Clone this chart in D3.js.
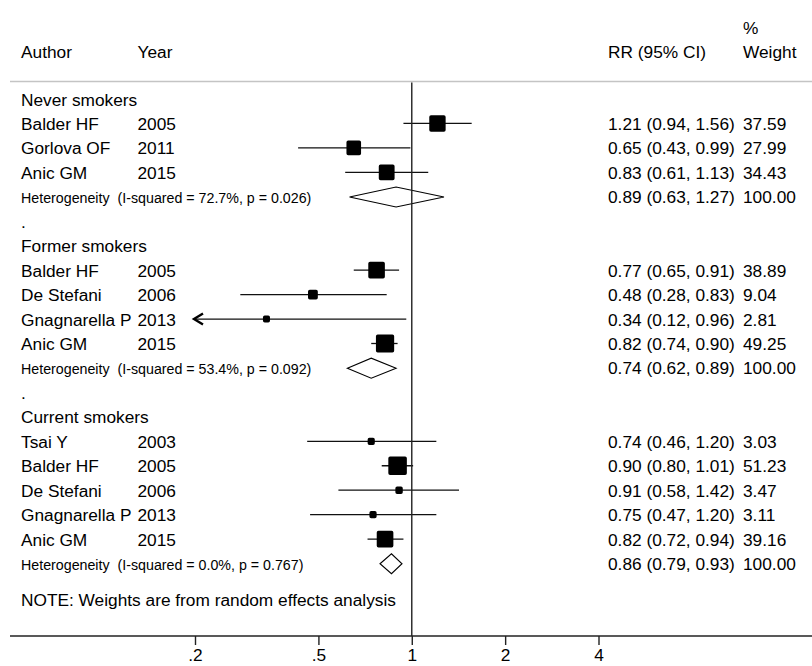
<!DOCTYPE html>
<html>
<head>
<meta charset="utf-8">
<script src="https://cdn.jsdelivr.net/npm/d3@7"></script>
<style>
  html, body { margin: 0; padding: 0; background: #fff; }
  svg { display: block; }
  text { font-family: "Liberation Sans", Arial, sans-serif; fill: #000; }
</style>
</head>
<body>
<svg id="chart" width="812" height="666"></svg>
<script>
// ---------- data ----------
const groupNames = ["Never smokers", "Former smokers", "Current smokers"];
const studyGroup = [0, 0, 0, 1, 1, 1, 1, 2, 2, 2, 2, 2];
const authors = ["Balder HF", "Gorlova OF", "Anic GM",
                 "Balder HF", "De Stefani", "Gnagnarella P", "Anic GM",
                 "Tsai Y", "Balder HF", "De Stefani", "Gnagnarella P", "Anic GM"];
const years = [2005, 2011, 2015, 2005, 2006, 2013, 2015, 2003, 2005, 2006, 2013, 2015];
const rr = [1.21, 0.65, 0.83, 0.77, 0.48, 0.34, 0.82, 0.74, 0.90, 0.91, 0.75, 0.82];
const lo = [0.94, 0.43, 0.61, 0.65, 0.28, 0.12, 0.74, 0.46, 0.80, 0.58, 0.47, 0.72];
const hi = [1.56, 0.99, 1.13, 0.91, 0.83, 0.96, 0.90, 1.20, 1.01, 1.42, 1.20, 0.94];
const weights = [37.59, 27.99, 34.43, 38.89, 9.04, 2.81, 49.25, 3.03, 51.23, 3.47, 3.11, 39.16];
const pooledRR = [0.89, 0.74, 0.86];
const pooledLo = [0.63, 0.62, 0.79];
const pooledHi = [1.27, 0.89, 0.93];
const pooledWeight = [100, 100, 100];
const iSquared = ["72.7%", "53.4%", "0.0%"];
const pValues = ["0.026", "0.092", "0.767"];
const tickValues = [0.2, 0.5, 1, 2, 4];
const tickLabels = [".2", ".5", "1", "2", "4"];
const noteText = "NOTE: Weights are from random effects analysis";

// ---------- layout ----------
const W = 812, H = 666;
const svg = d3.select("#chart");
const fmt = d3.format(".2f");
const x = d3.scaleLog().domain([0.2, 4]).range([195, 598.5]);
const rowY = d3.scaleLinear().domain([0, 1]).range([99.5, 123.95]);
const colAuthor = 21, colYear = 137.5, colRR = 608, colW = 743;
const axisY = 636, topLineY = 81.5;
const fs = 17.3;
const baseOff = 6;

// build row list
const rows = [];
let r = 0;
groupNames.forEach((g, gi) => {
  rows.push({type: "group", row: r++, label: g});
  studyGroup.forEach((sg, i) => {
    if (sg === gi) rows.push({type: "study", row: r++, i});
  });
  rows.push({type: "het", row: r++, gi});
  if (gi < groupNames.length - 1) rows.push({type: "dot", row: r++});
});
const noteRow = r + 0.45;

// header separator
svg.append("line").attr("x1", 10).attr("x2", W).attr("y1", topLineY).attr("y2", topLineY)
  .attr("stroke", "#c4c4c4").attr("stroke-width", 1.6);

// headers
const hdr = svg.append("g").style("font-size", fs + "px");
hdr.append("text").attr("x", colAuthor).attr("y", 58).text("Author");
hdr.append("text").attr("x", colYear).attr("y", 58).text("Year");
hdr.append("text").attr("x", colRR).attr("y", 58).text("RR (95% CI)");
hdr.append("text").attr("x", colW).attr("y", 58).text("Weight");
hdr.append("text").attr("x", colW).attr("y", 33.5).text("%");

// axis
svg.append("line").attr("x1", 10).attr("x2", W).attr("y1", axisY).attr("y2", axisY)
  .attr("stroke", "#222").attr("stroke-width", 1.4);
const axis = d3.axisBottom(x).tickValues(tickValues)
  .tickFormat((d, i) => tickLabels[i]).tickSize(9).tickPadding(4);
const ag = svg.append("g").attr("transform", `translate(0,${axisY})`).call(axis);
ag.select(".domain").remove();
ag.selectAll(".tick line").attr("stroke", "#222").attr("stroke-width", 1.4);
ag.selectAll(".tick text").style("font-size", fs + "px")
  .style("font-family", '"Liberation Sans", Arial, sans-serif').attr("fill", "#000");

// text rows
const tg = svg.append("g").style("font-size", fs + "px");
rows.forEach(d => {
  const y = rowY(d.row);
  if (d.type === "group") {
    tg.append("text").attr("x", colAuthor).attr("y", y + baseOff).text(d.label);
  } else if (d.type === "dot") {
    tg.append("text").attr("x", colAuthor).attr("y", y + baseOff).text(".");
  } else if (d.type === "study") {
    const i = d.i;
    tg.append("text").attr("x", colAuthor).attr("y", y + baseOff).text(authors[i]);
    tg.append("text").attr("x", colYear).attr("y", y + baseOff).text(years[i]);
    tg.append("text").attr("x", colRR).attr("y", y + baseOff)
      .text(`${fmt(rr[i])} (${fmt(lo[i])}, ${fmt(hi[i])})`);
    tg.append("text").attr("x", colW).attr("y", y + baseOff).text(fmt(weights[i]));
  } else if (d.type === "het") {
    const gi = d.gi;
    tg.append("text")
      .attr("transform", `translate(${colAuthor},${y + 5.5}) scale(0.95,1)`)
      .style("font-size", "15px").style("white-space", "pre")
      .text(`Heterogeneity  (I-squared = ${iSquared[gi]}, p = ${pValues[gi]})`);
    tg.append("text").attr("x", colRR).attr("y", y + baseOff)
      .text(`${fmt(pooledRR[gi])} (${fmt(pooledLo[gi])}, ${fmt(pooledHi[gi])})`);
    tg.append("text").attr("x", colW).attr("y", y + baseOff).text(fmt(pooledWeight[gi]));
  }
});
tg.append("text").attr("x", colAuthor).attr("y", rowY(noteRow) + baseOff).text(noteText);

// marks
const mg = svg.append("g");
const xMin = x.domain()[0];
rows.filter(d => d.type === "study").forEach(d => {
  const i = d.i, y = rowY(d.row) - 0.5;
  const l = Math.max(lo[i], xMin);
  mg.append("line").attr("x1", x(l)).attr("x2", x(hi[i])).attr("y1", y).attr("y2", y)
    .attr("stroke", "#111").attr("stroke-width", 1.3);
  if (lo[i] < xMin) {
    const ax = x(xMin) - 1;
    mg.append("path").attr("d", `M${ax + 9},${y - 5.5}L${ax},${y}L${ax + 9},${y + 5.5}`)
      .attr("fill", "none").attr("stroke", "#000").attr("stroke-width", 2.4)
      .attr("stroke-linejoin", "miter");
  }
  const s = 2.1 * Math.sqrt(weights[i]);
  mg.append("rect").attr("x", x(rr[i]) - s / 2).attr("y", y - s / 2)
    .attr("width", s).attr("height", s)
    .attr("fill", "#000").attr("stroke", "#000").attr("stroke-width", 3.5)
    .attr("stroke-linejoin", "round");
});
rows.filter(d => d.type === "het").forEach(d => {
  const gi = d.gi, y = rowY(d.row) - 0.3;
  const h = 10;
  mg.append("path")
    .attr("d", `M${x(pooledLo[gi])},${y}L${x(pooledRR[gi])},${y - h}L${x(pooledHi[gi])},${y}L${x(pooledRR[gi])},${y + h}Z`)
    .attr("fill", "none").attr("stroke", "#000").attr("stroke-width", 1.1);
});

// null line at 1
svg.append("line").attr("x1", x(1)).attr("x2", x(1)).attr("y1", topLineY + 1).attr("y2", axisY)
  .attr("stroke", "#222").attr("stroke-width", 1.4);
</script>
</body>
</html>
